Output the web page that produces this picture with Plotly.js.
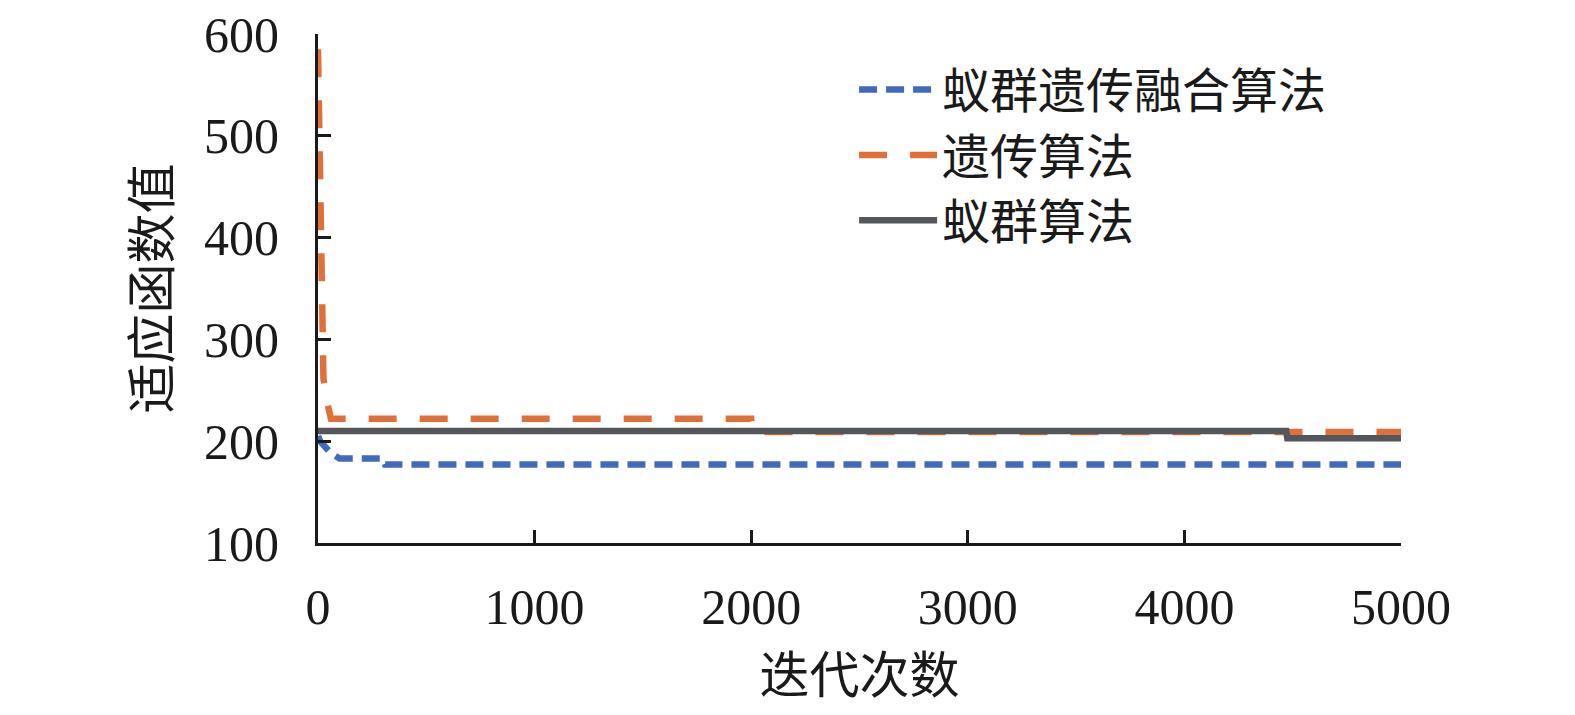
<!DOCTYPE html>
<html>
<head>
<meta charset="utf-8">
<script src="https://cdn.plot.ly/plotly-3.0.1.min.js"></script>
<style>
  html, body { margin: 0; padding: 0; background: #fff; }
  #chart { width: 1575px; height: 715px; }
</style>
</head>
<body>
<div id="chart"></div>
<script>
// series names (legend order)
const seriesNames = ['蚁群遗传融合算法', '遗传算法', '蚁群算法']

// fitness curves (iteration, value)
const hybridIter = [0, 10, 60, 100, 300, 310, 5000]
const hybridFit  = [205, 200, 188, 183, 183, 177, 177]

const gaIter = [0, 10, 20, 25, 40, 60, 2000, 2005, 5000]
const gaFit  = [585, 450, 300, 262, 240, 222, 222, 209, 209]

const acoIter = [0, 4470, 4475, 5000]
const acoFit  = [210, 210, 203, 203]

const xTicks = [0, 1000, 2000, 3000, 4000, 5000]
const yTicks = [100, 200, 300, 400, 500, 600]

function drawChart() {
    const chart = document.getElementById('chart')
    const data = [
        {
            x: hybridIter, y: hybridFit, name: seriesNames[0],
            mode: 'lines', type: 'scatter',
            line: { color: '#4169BD', width: 6.5, dash: '18px,9px' }
        },
        {
            x: gaIter, y: gaFit, name: seriesNames[1],
            mode: 'lines', type: 'scatter',
            line: { color: '#E0703A', width: 6.5, dash: '28px,23px' }
        },
        {
            x: acoIter, y: acoFit, name: seriesNames[2],
            mode: 'lines', type: 'scatter',
            line: { color: '#53575B', width: 6.5 }
        }
    ]
    const axisFont = { family: 'Liberation Serif, Times New Roman, serif', size: 50, color: '#1a1a1a' }
    const cjkFont = { family: 'Noto Sans CJK SC, sans-serif', size: 50, color: '#1a1a1a' }
    const layout = {
        width: 1575,
        height: 715,
        paper_bgcolor: '#ffffff',
        plot_bgcolor: '#ffffff',
        margin: { l: 318, r: 174, t: 34, b: 172, pad: 0 },
        showlegend: true,
        legend: {
            x: 0.495, y: 0.965, xanchor: 'left', yanchor: 'top',
            font: { family: 'Noto Sans CJK SC, sans-serif', size: 48, color: '#1a1a1a' },
            bgcolor: 'rgba(0,0,0,0)',
            itemwidth: 78,
            tracegroupgap: 0
        },
        xaxis: {
            range: [0, 5000],
            tickvals: xTicks,
            ticktext: xTicks.map(String),
            showgrid: false, zeroline: false,
            showline: true, linecolor: '#1a1a1a', linewidth: 3,
            ticks: 'inside', ticklen: 13, tickwidth: 3, tickcolor: '#1a1a1a',
            tickfont: axisFont,
            ticklabelstandoff: 18,
            title: { text: '迭代次数', font: cjkFont, standoff: 24 },
            automargin: false
        },
        yaxis: {
            range: [100, 600],
            tickvals: yTicks,
            ticktext: yTicks.map(String),
            showgrid: false, zeroline: false,
            showline: true, linecolor: '#1a1a1a', linewidth: 3,
            ticks: 'inside', ticklen: 13, tickwidth: 3, tickcolor: '#1a1a1a',
            tickfont: axisFont,
            ticklabelstandoff: 26,
            title: { text: '适应函数值', font: cjkFont, standoff: 18 },
            automargin: false
        }
    }
    Plotly.newPlot(chart, data, layout, { staticPlot: true, displayModeBar: false })
}

drawChart()
</script>
</body>
</html>
